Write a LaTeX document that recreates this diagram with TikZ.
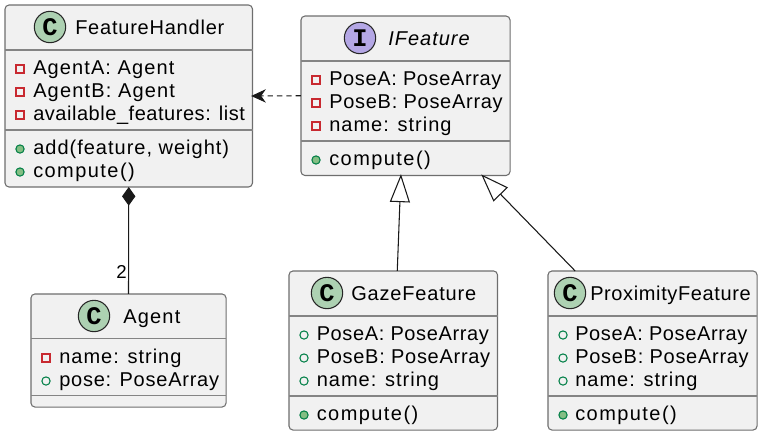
\documentclass[tikz,border=0pt]{standalone}
\usepackage{fontspec}
\setmainfont{Liberation Sans}[LetterSpace=5]
\setmonofont{Liberation Mono}
\usetikzlibrary{arrows.meta, positioning, calc}
\definecolor{box_fill}{HTML}{F1F1F1}
\definecolor{box_line}{HTML}{6E6E6E}
\definecolor{spot_class}{HTML}{ADD1B2}
\definecolor{spot_iface}{HTML}{B4A7E5}
\definecolor{priv_red}{HTML}{C82930}
\definecolor{pub_green}{HTML}{038048}
\definecolor{pub_fill}{HTML}{84BE84}
\newcommand{\spaced}[2]{{\addfontfeature{LetterSpace=#1}#2}}
\tikzset{
  classbox/.style={draw=box_line, fill=box_fill, line width=0.8pt, rounded corners=3pt, inner sep=0pt, outer sep=0pt},
  divider/.style={draw=box_line!85, line width=0.8pt},
  spot/.style={circle, draw=black!85, line width=0.8pt, minimum size=23.5pt, inner sep=0pt,
    font=\fontsize{19}{19}\ttfamily\bfseries},
  title/.style={anchor=base west, inner sep=0pt, font=\fontsize{15}{18}\selectfont},
  member/.style={anchor=base west, inner sep=0pt, font=\fontsize{15}{18}\selectfont},
  privfield/.style={rectangle, draw=priv_red, line width=0.8pt, fill=box_fill, minimum size=6pt, inner sep=0pt},
  pubfield/.style={circle, draw=pub_green, line width=0.8pt, fill=box_fill, minimum size=6.2pt, inner sep=0pt},
  pubmethod/.style={circle, draw=pub_green, line width=0.8pt, fill=pub_fill, minimum size=6.2pt, inner sep=0pt},
  link/.style={draw=black!90, line width=0.8pt}
}
\begin{document}
\begin{tikzpicture}[x=0.75pt, y=-0.75pt]
  \useasboundingbox (0,0) rectangle (762,436);
  % class boxes
  \node[classbox, minimum width=185.6pt, minimum height=136.5pt] (FeatureHandler) at (128.75,96) {};
  \node[classbox, minimum width=156.8pt, minimum height=119.6pt] (IFeature) at (405.5,95.75) {};
  \node[classbox, minimum width=146.3pt, minimum height=84.8pt] (Agent) at (128.5,350.5) {};
  \node[classbox, minimum width=156.4pt, minimum height=119.3pt] (GazeFeature) at (393.25,350.5) {};
  \node[classbox, minimum width=156.8pt, minimum height=119.3pt] (ProximityFeature) at (652.5,350.5) {};
  % dividers
  \draw[divider] (5,50) -- (252.5,50) (5,130) -- (252.5,130);
  \draw[divider] (301,61) -- (510,61) (301,141) -- (510,141);
  \draw[divider] (31,338.5) -- (226,338.5) (31,395.5) -- (226,395.5);
  \draw[divider] (289,316) -- (497.5,316) (289,396) -- (497.5,396);
  \draw[divider] (548,316) -- (757,316) (548,396) -- (757,396);
  % headers
  \node[spot, fill=spot_class] (spotHandler) at (50,27) {C};
  \node[title] (titleHandler) at (75,34) {\spaced{3.9}{FeatureHandler}};
  \node[spot, fill=spot_iface] (spotIFeature) at (360,38) {I};
  \node[title, font=\fontsize{15}{18}\selectfont\itshape] (titleIFeature) at (388,45) {IFeature};
  \node[spot, fill=spot_class] (spotAgent) at (94,316) {C};
  \node[title] (titleAgent) at (123,323) {\spaced{6}{Agent}};
  \node[spot, fill=spot_class] (spotGaze) at (327,293) {C};
  \node[title] (titleGaze) at (351,300) {\spaced{4.1}{GazeFeature}};
  \node[spot, fill=spot_class] (spotProx) at (570,293) {C};
  \node[title] (titleProx) at (590,300) {\spaced{3.1}{ProximityFeature}};
  % members
  \foreach \name/\y/\kind/\gap/\txt in {
      ha/67/privfield/5.5/{AgentA: Agent}, hb/90/privfield/5.8/{AgentB: Agent},
      hc/113/privfield/2.7/{available\_features: list},
      hd/147/pubmethod/5/{add(feature, weight)}, he/170/pubmethod/7.2/{compute()}} {
    \node[\kind] (icon\name) at (20,\y+2) {};
    \node[member] (text\name) at (33,\y+7) {\spaced{\gap}{\txt}};
  }
  \foreach \name/\y/\kind/\gap/\txt in {
      ia/78/privfield/3.1/{PoseA: PoseArray}, ib/101/privfield/3.6/{PoseB: PoseArray},
      ic/124/privfield/5/{name: string}, id/158/pubmethod/7.2/{compute()}} {
    \node[\kind] (icon\name) at (316,\y+2) {};
    \node[member] (text\name) at (329,\y+7) {\spaced{\gap}{\txt}};
  }
  \foreach \name/\y/\kind/\gap/\txt in {
      aa/356/privfield/5/{name: string}, ab/379/pubfield/3.8/{pose: PoseArray}} {
    \node[\kind] (icon\name) at (46,\y+2) {};
    \node[member] (text\name) at (59,\y+7) {\spaced{\gap}{\txt}};
  }
  \foreach \name/\y/\kind/\gap/\txt in {
      ga/333/pubfield/3.1/{PoseA: PoseArray}, gb/356/pubfield/3.6/{PoseB: PoseArray},
      gc/379/pubfield/5/{name: string}, gd/413/pubmethod/7.2/{compute()}} {
    \node[\kind] (icon\name) at (304,\y+2) {};
    \node[member] (text\name) at (316.5,\y+7) {\spaced{\gap}{\txt}};
  }
  \foreach \name/\y/\kind/\gap/\txt in {
      pa/333/pubfield/3.1/{PoseA: PoseArray}, pb/356/pubfield/3.6/{PoseB: PoseArray},
      pc/379/pubfield/5/{name: string}, pd/413/pubmethod/7.2/{compute()}} {
    \node[\kind] (icon\name) at (563,\y+2) {};
    \node[member] (text\name) at (575,\y+7) {\spaced{\gap}{\txt}};
  }
  % connectors
  \draw[link, dashed, dash pattern=on 4pt off 3pt, -{Stealth[length=11pt, width=10pt, inset=3.5pt]}] (IFeature.west) -- ([xshift=-1pt]FeatureHandler.east);
  \draw[link, {Diamond[length=14pt, width=10pt]}-] (FeatureHandler.south) -- (Agent.north)
    node[pos=0.79, left=1pt, inner sep=0pt, font=\fontsize{14}{16}\selectfont] (cardAgent) {2};
  \draw[link, -{Triangle[open, fill=white, length=21pt, width=15pt]}] ([xshift=3pt]GazeFeature.north) -- ([xshift=-3.4pt, yshift=1pt]IFeature.south);
  \draw[link, -{Triangle[open, fill=white, length=21pt, width=15pt]}] ([xshift=-58pt]ProximityFeature.north) -- ([xshift=56.8pt, yshift=0.8pt]IFeature.south);
\end{tikzpicture}
\end{document}
